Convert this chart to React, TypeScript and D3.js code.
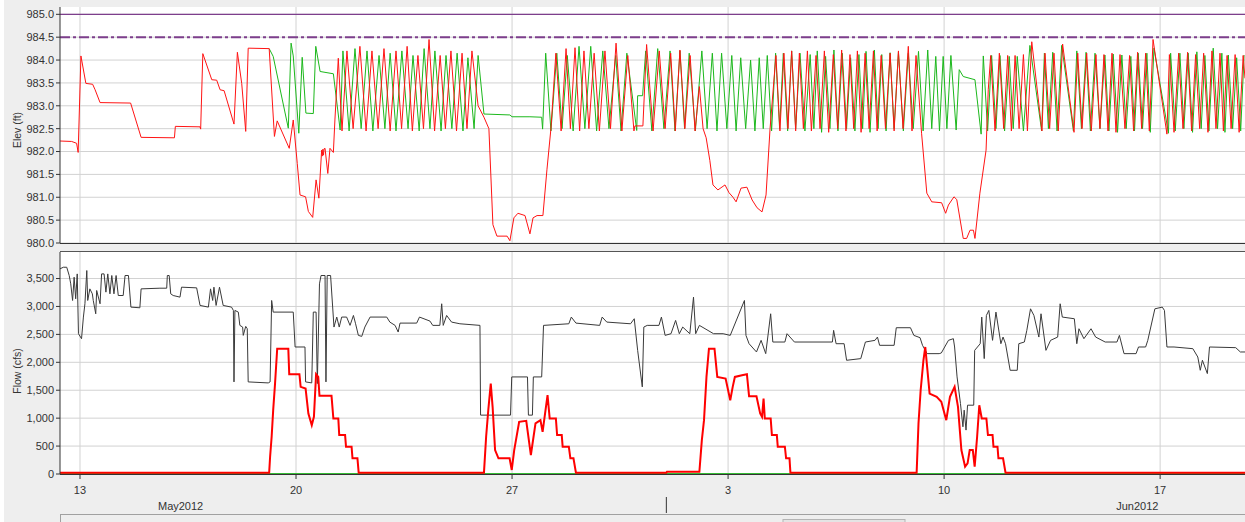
import React from 'react'
import * as d3 from 'd3'

// time unit: day of May 2012 (June d = 31 + d)
type Pt = [number, number]

const timeStart = 12.352
const timeEnd = 50.75
const elevDomain: [number, number] = [980, 985.16]
const flowDomain: [number, number] = [0, 3975]
const maxPoolElev = 985.0
const guideElev = 984.5
const monthLabelOffsetDays = 15.26

const redElev: Pt[] = [
  [12.35, 982.23], [12.73, 982.22], [12.89, 982.18], [12.94, 981.98], [13.03, 984.09], [13.19, 983.49],
  [13.41, 983.47], [13.49, 983.35], [13.65, 983.07], [14.64, 983.06], [14.98, 982.31], [16.06, 982.3],
  [16.09, 982.55], [16.89, 982.54], [16.91, 982.49], [16.98, 984.14], [17.27, 983.57], [17.43, 983.56],
  [17.54, 983.35], [17.67, 983.33], [17.99, 982.6], [18.1, 984.17], [18.24, 983.49], [18.37, 982.44],
  [18.45, 984.26], [19.13, 984.25], [19.3, 982.33], [19.39, 982.67], [19.78, 982.07], [19.91, 982.69],
  [20.04, 981.74], [20.13, 981.05], [20.31, 981.01], [20.4, 980.69], [20.54, 980.56], [20.65, 981.38],
  [20.74, 980.98], [20.83, 982.03], [20.85, 981.9], [20.87, 982.05], [20.89, 981.92], [20.91, 982.06],
  [20.94, 982.07], [21.03, 981.52], [21.1, 982.07], [21.21, 981.98], [21.26, 982.69],
  [21.37, 984.04], [21.49, 982.45], [21.65, 984.2], [21.85, 982.5], [22.07, 984.3], [22.27, 982.45],
  [22.46, 984.2], [22.66, 982.5], [22.85, 984.25], [23.05, 982.45], [23.24, 984.2], [23.42, 982.5],
  [23.6, 984.3], [23.77, 982.45], [23.95, 984.1], [24.13, 982.5], [24.31, 984.45], [24.49, 982.45],
  [24.67, 984.1], [24.84, 982.5], [25.02, 984.2], [25.2, 982.45], [25.38, 984.15], [25.54, 982.5],
  [25.7, 984.2], [25.9, 983.0], [26.09, 982.75], [26.25, 982.5], [26.38, 980.4], [26.51, 980.15],
  [26.84, 980.15], [26.93, 980.05], [27.06, 980.55], [27.19, 980.65], [27.42, 980.6], [27.58, 980.2],
  [27.68, 980.55], [27.81, 980.6], [28.0, 980.6], [28.13, 981.6], [28.26, 982.5],
  [28.42, 984.15], [28.59, 982.45], [28.75, 984.25], [28.89, 982.5], [29.04, 984.27], [29.19, 982.45],
  [29.33, 984.2], [29.49, 982.5], [29.66, 984.15], [29.83, 982.45], [30.01, 984.2], [30.19, 982.5],
  [30.37, 984.37], [30.56, 982.45], [30.75, 984.1], [30.95, 982.45], [30.98, 982.56], [31.24, 982.56],
  [31.36, 984.34], [31.57, 982.45], [31.77, 984.2], [31.96, 982.5], [32.14, 984.15], [32.29, 982.45],
  [32.44, 984.22], [32.6, 982.5], [32.77, 984.1], [32.93, 982.45], [33.07, 983.42], [33.19, 982.5],
  [33.29, 982.3], [33.41, 981.8], [33.51, 981.27], [33.67, 981.16], [33.9, 981.27], [34.03, 981.1],
  [34.16, 981.0], [34.26, 980.9], [34.42, 981.2], [34.61, 981.22], [34.78, 980.94], [34.94, 980.77],
  [35.1, 980.68], [35.23, 981.05], [35.36, 982.5],
  [35.55, 984.1], [35.68, 982.45], [35.81, 984.15], [35.94, 982.5], [36.06, 984.2], [36.19, 982.45],
  [36.31, 984.15], [36.44, 982.5], [36.57, 984.2], [36.7, 982.45], [36.85, 984.1], [36.98, 982.5],
  [37.12, 984.2], [37.26, 982.42], [37.41, 984.12], [37.55, 982.5], [37.68, 984.22], [37.82, 982.45],
  [37.95, 984.12], [38.07, 982.5], [38.19, 984.2], [38.31, 982.42], [38.44, 984.15], [38.57, 982.5],
  [38.71, 984.2], [38.83, 982.45], [38.96, 984.1], [39.1, 982.5], [39.25, 984.15], [39.38, 982.45],
  [39.52, 984.2], [39.67, 982.5], [39.84, 984.3], [39.96, 982.45], [40.09, 984.1], [40.27, 982.4],
  [40.44, 981.09], [40.6, 980.9], [40.92, 980.88], [41.05, 980.65], [41.14, 980.83], [41.32, 981.01],
  [41.41, 980.95], [41.62, 980.1], [41.73, 980.1], [41.84, 980.28], [41.95, 980.28], [42.0, 980.1],
  [42.16, 981.09], [42.36, 982.03], [42.43, 983.35], [42.51, 984.1],
  [42.65, 982.45], [42.79, 984.15], [42.93, 982.5], [43.06, 984.1], [43.18, 982.45], [43.3, 984.1],
  [43.43, 982.5], [43.57, 984.12], [43.7, 982.45], [43.84, 984.4], [44.17, 982.45], [44.27, 984.15],
  [44.42, 982.5], [44.56, 984.15], [44.7, 982.45], [44.84, 984.35], [45.21, 982.42], [45.33, 984.15],
  [45.47, 982.5], [45.62, 984.15], [45.77, 982.45], [45.92, 984.12], [46.05, 982.5], [46.18, 984.12],
  [46.31, 982.45], [46.44, 984.15], [46.57, 982.42], [46.7, 984.12], [46.86, 982.5], [47.01, 984.1],
  [47.14, 982.45], [47.27, 984.17], [47.4, 982.5], [47.53, 984.15], [47.65, 982.45], [47.77, 984.45],
  [48.22, 982.38], [48.3, 984.12], [48.45, 982.42], [48.6, 984.15], [48.74, 982.5], [48.89, 984.17],
  [49.02, 982.45], [49.15, 984.12], [49.28, 982.5], [49.41, 984.15], [49.55, 982.42], [49.68, 984.2],
  [49.81, 982.5], [49.94, 984.15], [50.05, 982.45], [50.17, 984.1], [50.3, 982.5], [50.43, 984.12],
  [50.56, 982.42], [50.69, 984.1], [50.75, 983.6],
]

const greenElev: Pt[] = [
  [19.13, 984.25], [19.26, 984.08], [19.75, 982.51], [19.84, 984.37], [19.91, 984.09], [20.09, 982.4],
  [20.2, 984.06], [20.32, 982.84], [20.56, 982.83], [20.64, 984.3], [20.78, 983.75], [21.21, 983.7],
  [21.43, 982.47],
  [21.52, 984.2], [21.72, 982.45], [21.91, 984.25], [22.11, 982.5], [22.3, 984.2], [22.49, 982.45],
  [22.69, 984.1], [22.88, 982.5], [23.05, 984.15], [23.24, 982.45], [23.43, 984.2], [23.63, 982.5],
  [23.79, 984.1], [23.99, 982.45], [24.15, 984.25], [24.34, 982.5], [24.5, 984.2], [24.7, 982.45],
  [24.86, 984.1], [25.05, 982.5], [25.22, 984.15], [25.41, 982.45], [25.57, 984.05], [25.77, 982.5],
  [25.9, 984.1], [26.09, 982.82], [26.93, 982.8], [27.0, 982.76], [27.58, 982.76], [27.96, 982.75],
  [27.99, 982.49], [28.09, 984.15],
  [28.26, 982.45], [28.45, 984.15], [28.62, 982.5], [28.79, 984.1], [28.98, 982.45], [29.17, 984.3],
  [29.36, 982.5], [29.55, 984.3], [29.74, 982.45], [29.94, 984.2], [30.14, 982.5], [30.36, 984.1],
  [30.53, 982.45], [30.72, 984.15], [31.04, 982.46], [31.07, 983.22], [31.23, 983.22], [31.33, 984.2],
  [31.53, 982.45], [31.72, 984.25], [31.92, 982.5], [32.12, 984.2], [32.28, 982.45], [32.44, 984.2],
  [32.59, 982.5], [32.74, 984.15], [32.94, 982.45], [33.15, 984.2], [33.32, 982.5], [33.49, 984.15],
  [33.64, 982.45], [33.79, 984.15], [33.96, 982.5], [34.12, 984.1], [34.26, 982.45], [34.41, 984.05],
  [34.57, 982.5], [34.73, 984.0], [34.87, 982.45], [35.01, 984.05], [35.14, 982.5], [35.27, 984.1],
  [35.41, 982.45], [35.54, 984.15], [35.67, 982.5], [35.79, 984.15], [35.93, 982.45], [36.06, 984.2],
  [36.19, 982.5], [36.33, 984.15], [36.49, 982.45], [36.66, 984.12], [36.78, 982.5], [36.89, 984.2],
  [37.03, 982.42], [37.16, 984.08], [37.3, 982.5], [37.43, 984.22], [37.56, 982.45], [37.7, 984.15],
  [37.84, 982.5], [37.97, 984.05], [38.11, 982.45], [38.24, 984.12], [38.36, 982.5], [38.47, 984.19],
  [38.6, 982.42], [38.74, 984.22], [38.86, 982.5], [38.98, 984.12], [39.12, 982.45], [39.25, 984.16],
  [39.38, 982.5], [39.52, 984.17], [39.68, 982.45], [39.84, 984.15], [40.0, 982.5], [40.17, 984.19],
  [40.32, 982.45], [40.47, 984.22], [40.6, 982.5], [40.73, 984.08], [40.85, 982.45], [40.97, 984.08],
  [41.09, 982.5], [41.22, 984.1], [41.39, 982.47], [41.49, 983.79], [41.62, 983.64], [42.0, 983.57],
  [42.2, 982.38], [42.27, 984.09],
  [42.41, 982.45], [42.54, 984.1], [42.68, 982.5], [42.81, 984.1], [42.96, 982.45], [43.11, 984.08],
  [43.24, 982.5], [43.37, 984.08], [43.57, 982.45], [43.78, 984.32], [44.16, 982.45], [44.25, 984.15],
  [44.38, 982.5], [44.52, 984.17], [44.66, 982.45], [44.81, 984.32], [45.19, 982.45], [45.3, 984.2],
  [45.45, 982.5], [45.6, 984.17], [45.74, 982.45], [45.89, 984.15], [46.05, 982.5], [46.21, 984.11],
  [46.34, 982.45], [46.48, 984.13], [46.62, 982.42], [46.76, 984.11], [46.9, 982.5], [47.05, 984.08],
  [47.17, 982.45], [47.29, 984.15], [47.43, 982.5], [47.57, 984.15], [47.68, 982.42], [47.8, 984.26],
  [48.27, 982.4], [48.34, 984.15], [48.49, 982.45], [48.64, 984.15], [48.77, 982.5], [48.91, 984.15],
  [49.05, 982.42], [49.19, 984.18], [49.33, 982.5], [49.45, 984.1], [49.58, 982.45], [49.72, 984.26],
  [49.86, 982.5], [50.0, 984.15], [50.1, 982.42], [50.21, 984.11], [50.35, 982.5], [50.48, 984.05],
  [50.61, 982.45], [50.72, 984.11],
]

const grayFlow: Pt[] = [
  [12.35, 3673], [12.46, 3702], [12.57, 3702], [12.65, 3554], [12.7, 3405], [12.76, 3107], [12.81, 3524],
  [12.86, 3137], [12.91, 3583], [12.95, 2512], [13.05, 2423], [13.11, 2810], [13.16, 3048], [13.22, 3643],
  [13.25, 3107], [13.32, 3315], [13.4, 3226], [13.43, 3107], [13.51, 2869], [13.54, 3286], [13.65, 3048],
  [13.7, 3583], [13.78, 3583], [13.84, 3256], [13.9, 3583], [13.97, 3226], [14.03, 3554], [14.1, 3226],
  [14.17, 3554], [14.24, 3196], [14.4, 3196], [14.46, 3554], [14.57, 3554], [14.65, 2988], [14.94, 2976],
  [14.98, 3315], [15.59, 3327], [15.81, 3327], [15.83, 3554], [15.89, 3554], [15.94, 3226], [16.02, 3196],
  [16.24, 3167], [16.29, 3345], [16.78, 3333], [16.89, 3018], [17.16, 2988], [17.23, 3315], [17.3, 3107],
  [17.34, 3345], [17.41, 3018], [17.52, 3345], [17.64, 3018], [17.91, 2988], [17.97, 2929], [17.99, 1649],
  [18.02, 2929], [18.13, 2899], [18.18, 2661], [18.27, 2631], [18.29, 2482], [18.37, 2643], [18.42, 2601],
  [18.45, 1649], [19.1, 1631], [19.16, 1649], [19.21, 3107], [19.26, 2899], [19.91, 2899], [19.97, 2274],
  [20.29, 2274], [20.31, 1649], [20.51, 1631], [20.56, 2899], [20.65, 2899], [20.69, 1619], [20.76, 3405],
  [20.81, 3554], [20.94, 3554], [20.97, 1649], [21.01, 3554], [21.12, 3554], [21.23, 2631], [21.32, 2810],
  [21.4, 2631], [21.48, 2810], [21.64, 2810], [21.75, 2661], [21.86, 2839], [21.93, 2690], [22.02, 2482],
  [22.13, 2464], [22.23, 2631], [22.4, 2810], [22.94, 2810], [23.04, 2720], [23.21, 2661], [23.31, 2542],
  [23.37, 2702], [23.91, 2702], [24.0, 2810], [24.34, 2738], [24.43, 2661], [24.66, 2661], [24.72, 3048],
  [24.77, 2661], [24.88, 2839], [25.04, 2720], [25.31, 2690], [25.96, 2661], [25.98, 1054], [26.95, 1054],
  [26.99, 1738], [27.5, 1738], [27.53, 1054], [27.66, 1054], [27.69, 1738], [27.96, 1738], [28.02, 2661],
  [28.84, 2690], [28.92, 2810], [29.07, 2702], [29.84, 2661], [29.92, 2810], [30.07, 2720], [30.84, 2690],
  [30.96, 2780], [31.07, 2214], [31.22, 1560], [31.27, 2631], [31.38, 2661], [31.76, 2661], [31.84, 2810],
  [31.96, 2482], [32.15, 2512], [32.3, 2750], [32.42, 2512], [32.53, 2631], [32.76, 2512], [32.88, 3167],
  [32.95, 2512], [33.07, 2661], [33.53, 2512], [33.84, 2512], [34.07, 2482], [34.53, 3107], [34.58, 2482],
  [34.68, 2333], [34.92, 2185], [35.07, 2393], [35.22, 2155], [35.38, 2869], [35.45, 2363], [35.84, 2363],
  [35.91, 2512], [36.15, 2363], [37.38, 2363], [37.42, 2572], [37.5, 2333], [37.76, 2333], [37.84, 2036],
  [38.3, 2066], [38.45, 2363], [38.76, 2393], [38.84, 2452], [38.91, 2304], [39.38, 2304], [39.45, 2619],
  [39.91, 2619], [40.02, 2482], [40.22, 2441], [40.3, 2304], [40.45, 2155], [40.84, 2155], [40.91, 2167],
  [41.14, 2393], [41.3, 2423], [41.34, 2274], [41.42, 1738], [41.53, 1262], [41.61, 845], [41.65, 1143],
  [41.71, 786], [41.76, 1232], [41.96, 1232], [41.99, 2214], [42.17, 2333], [42.22, 2810], [42.3, 2066],
  [42.37, 2839], [42.45, 2929], [42.57, 2393], [42.68, 2899], [42.84, 2333], [42.91, 2452], [42.99, 2333],
  [43.14, 1857], [43.37, 1857], [43.42, 2333], [43.6, 2363], [43.68, 2572], [43.8, 2958], [43.91, 2839],
  [44.07, 2452], [44.14, 2869], [44.3, 2214], [44.45, 2393], [44.68, 2452], [44.76, 3048], [44.83, 2810],
  [45.22, 2780], [45.3, 2333], [45.37, 2601], [45.53, 2423], [45.76, 2601], [45.91, 2452], [46.22, 2363],
  [46.6, 2363], [46.68, 2482], [46.83, 2155], [47.22, 2155], [47.3, 2274], [47.53, 2274], [47.6, 2393],
  [47.83, 2958], [48.07, 2988], [48.14, 2929], [48.22, 2274], [48.45, 2274], [49.06, 2244], [49.22, 2095],
  [49.3, 1857], [49.37, 2036], [49.53, 1798], [49.6, 2274], [50.45, 2262], [50.6, 2185], [50.75, 2185],
]

const redFlow: Pt[] = [
  [12.35, 24], [19.13, 24], [19.16, 310], [19.21, 667], [19.26, 1143], [19.32, 1619], [19.39, 2244],
  [19.75, 2244], [19.78, 1786], [20.11, 1786], [20.15, 1560], [20.31, 1530], [20.4, 1083], [20.51, 875],
  [20.58, 1024], [20.65, 1786], [20.72, 1738], [20.76, 1399], [21.15, 1399], [21.21, 994], [21.37, 994],
  [21.4, 697], [21.59, 697], [21.62, 488], [21.8, 488], [21.83, 280], [21.99, 280], [22.03, 24],
  [26.09, 24], [26.16, 667], [26.23, 1143], [26.31, 1619], [26.37, 1203], [26.45, 429], [26.56, 280],
  [26.92, 280], [26.99, 72], [27.07, 429], [27.23, 935], [27.46, 953], [27.61, 340], [27.76, 905],
  [27.92, 964], [27.99, 756], [28.15, 1411], [28.22, 994], [28.42, 994], [28.46, 697], [28.61, 697],
  [28.64, 488], [28.84, 488], [28.89, 280], [28.99, 280], [29.07, 24], [32.0, 24], [32.02, 40],
  [33.07, 40], [33.15, 607], [33.22, 964], [33.3, 1738], [33.38, 2244], [33.56, 2244], [33.65, 1738],
  [33.92, 1708], [34.07, 1321], [34.15, 1560], [34.22, 1738], [34.45, 1768], [34.61, 1786], [34.68, 1393],
  [34.92, 1393], [35.04, 1083], [35.1, 1024], [35.15, 1351], [35.19, 994], [35.38, 994], [35.42, 697],
  [35.58, 697], [35.61, 488], [35.84, 488], [35.88, 280], [35.99, 280], [36.02, 24], [40.11, 24],
  [40.17, 905], [40.24, 1500], [40.33, 2036], [40.39, 2274], [40.45, 1917], [40.53, 1440], [40.76, 1381],
  [40.91, 1292], [41.07, 964], [41.19, 1381], [41.34, 1560], [41.45, 1203], [41.56, 429], [41.68, 131],
  [41.76, 190], [41.83, 429], [41.93, 429], [41.99, 131], [42.07, 667], [42.14, 1232], [42.22, 994],
  [42.37, 994], [42.42, 697], [42.57, 697], [42.6, 488], [42.73, 488], [42.76, 280], [42.91, 280],
  [42.99, 24], [50.75, 24],
]

const greenFlow: Pt[] = [[12.35, 8], [50.75, 8]]

const W = 1245
const H = 522
const left = 60
const right = 1245
const top1 = 7
const bot1 = 243
const top2 = 252
const bot2 = 474

const baseMs = new Date(2012, 4, 0).getTime()
const toDate = (t: number) => new Date(baseMs + t * 86400000)

const font = "'Liberation Sans', Arial, sans-serif"
const textColor = '#333'
const gridColor = '#d2d2d2'

const App = () => {
  const x = d3.scaleTime().domain([toDate(timeStart), toDate(timeEnd)]).range([left, right])
  const yE = d3.scaleLinear().domain(elevDomain).range([bot1, top1])
  const yF = d3.scaleLinear().domain(flowDomain).range([bot2, top2])

  const lineE = d3.line<Pt>().x((d) => x(toDate(d[0]))).y((d) => yE(d[1]))
  const lineF = d3.line<Pt>().x((d) => x(toDate(d[0]))).y((d) => yF(d[1]))

  const [d0, d1] = x.domain()
  const weeks = d3.timeWeek.range(d0, d1)
  const months = d3.timeMonth.range(d3.timeMonth.floor(d0), d1)
  const monthStarts = months.filter((m) => m > d0)
  const fmtDay = d3.timeFormat('%-d')
  const fmtMonth = d3.timeFormat('%b%Y')

  const eTicks = yE.ticks(10).filter((v) => v <= 985)
  const fTicks = yF.ticks(8)
  const fmtE = d3.format('.1f')
  const fmtF = d3.format(',')

  return (
    <svg
      width={W}
      height={H}
      style={{ position: 'absolute', left: 0, top: 0, display: 'block' }}
      fontFamily={font}
    >
      <defs>
        <clipPath id="clipTop">
          <rect x={left} y={top1} width={right - left} height={bot1 - top1} />
        </clipPath>
        <clipPath id="clipBot">
          <rect x={left} y={top2} width={right - left} height={bot2 - top2} />
        </clipPath>
      </defs>
      <rect width={W} height={H} fill="#eeeeee" />
      <rect width={4} height={H} fill="#ffffff" />
      <rect x={left} y={top1} width={right - left} height={bot1 - top1} fill="#fff" />
      <rect x={left} y={top2} width={right - left} height={bot2 - top2} fill="#fff" />

      {/* grid */}
      {eTicks.map((v) => (
        <line key={'ge' + v} x1={left} x2={right} y1={yE(v)} y2={yE(v)} stroke={gridColor} />
      ))}
      {fTicks.map((v) => (
        <line key={'gf' + v} x1={left} x2={right} y1={yF(v)} y2={yF(v)} stroke={gridColor} />
      ))}
      {weeks.map((d) => (
        <g key={'gw' + d.getTime()}>
          <line x1={x(d)} x2={x(d)} y1={top1} y2={bot1} stroke={gridColor} />
          <line x1={x(d)} x2={x(d)} y1={top2} y2={bot2} stroke={gridColor} />
        </g>
      ))}

      {/* elevation panel */}
      <g clipPath="url(#clipTop)">
        <line x1={left} x2={right} y1={yE(maxPoolElev)} y2={yE(maxPoolElev)} stroke="#7d3f8c" strokeWidth={1.2} />
        <line
          x1={left}
          x2={right}
          y1={yE(guideElev)}
          y2={yE(guideElev)}
          stroke="#7d3f8c"
          strokeWidth={2}
          strokeDasharray="10,3,3,3"
        />
        <path d={lineE(greenElev) ?? ''} fill="none" stroke="#1cb81c" strokeWidth={1} />
        <path d={lineE(redElev) ?? ''} fill="none" stroke="#ff1414" strokeWidth={1} />
      </g>

      {/* flow panel */}
      <g clipPath="url(#clipBot)">
        <path d={lineF(grayFlow) ?? ''} fill="none" stroke="#3a3a3a" strokeWidth={1} />
        <path d={lineF(greenFlow) ?? ''} fill="none" stroke="#2db82d" strokeWidth={1} />
        <path d={lineF(redFlow) ?? ''} fill="none" stroke="#ff0000" strokeWidth={2} />
      </g>

      {/* axes frames */}
      <line x1={left} x2={left} y1={top1} y2={bot1} stroke="#333" />
      <line x1={left} x2={right} y1={bot1 + 0.5} y2={bot1 + 0.5} stroke="#333" />
      <line x1={left} x2={right} y1={top2 - 0.5} y2={top2 - 0.5} stroke="#555" />
      <line x1={left} x2={left} y1={top2} y2={bot2} stroke="#333" />
      <line x1={left} x2={right} y1={bot2 + 0.5} y2={bot2 + 0.5} stroke="#333" />

      {/* y axis: elevation */}
      {eTicks.map((v) => (
        <g key={'te' + v}>
          <line x1={left - 4} x2={left} y1={yE(v)} y2={yE(v)} stroke="#333" />
          <text x={left - 6} y={yE(v)} dy="0.36em" textAnchor="end" fontSize={11} fill={textColor}>
            {fmtE(v)}
          </text>
        </g>
      ))}
      <text transform={`translate(21,130) rotate(-90)`} textAnchor="middle" fontSize={10.5} fill={textColor}>
        Elev (ft)
      </text>

      {/* y axis: flow */}
      {fTicks.map((v) => (
        <g key={'tf' + v}>
          <line x1={left - 4} x2={left} y1={yF(v)} y2={yF(v)} stroke="#333" />
          <text x={left - 6} y={yF(v)} dy="0.36em" textAnchor="end" fontSize={11} fill={textColor}>
            {fmtF(v)}
          </text>
        </g>
      ))}
      <text transform={`translate(21,371) rotate(-90)`} textAnchor="middle" fontSize={10.5} fill={textColor}>
        Flow (cfs)
      </text>

      {/* x axis */}
      {weeks.map((d) => (
        <g key={'tx' + d.getTime()}>
          <line x1={x(d)} x2={x(d)} y1={bot2} y2={bot2 + 5} stroke="#333" />
          <text x={x(d)} y={bot2 + 19.5} textAnchor="middle" fontSize={11} fill={textColor}>
            {fmtDay(d)}
          </text>
        </g>
      ))}
      {monthStarts.map((d) => (
        <line key={'mt' + d.getTime()} x1={x(d)} x2={x(d)} y1={497} y2={513} stroke="#333" />
      ))}
      {months.map((m) => (
        <text
          key={'ml' + m.getTime()}
          x={x(new Date(m.getTime() + monthLabelOffsetDays * 86400000))}
          y={510}
          textAnchor="middle"
          fontSize={11}
          fill={textColor}
        >
          {fmtMonth(m)}
        </text>
      ))}

      {/* scroll bar */}
      <line x1={left} x2={right} y1={514.5} y2={514.5} stroke="#a0a0a0" />
      <line x1={left + 0.5} x2={left + 0.5} y1={514} y2={H} stroke="#a0a0a0" />
      <rect x={783} y={519.5} width={122} height={4} fill="#e4e4e4" stroke="#b4b4b4" />
    </svg>
  )
}

export default App
